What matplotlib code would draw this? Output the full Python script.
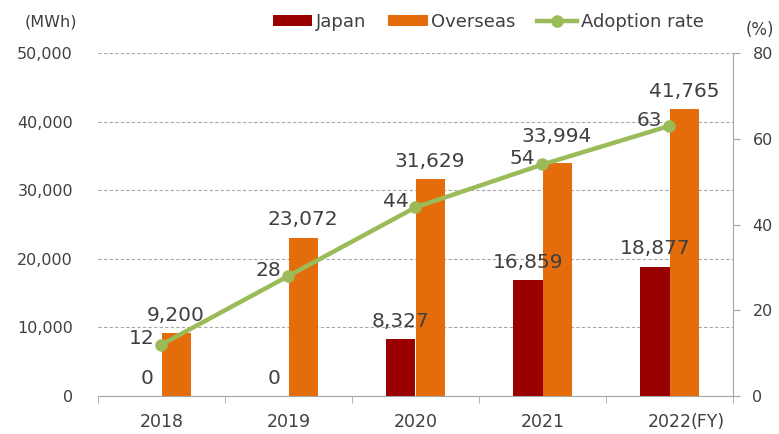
import numpy as np
import matplotlib.pyplot as plt
from matplotlib.ticker import FuncFormatter, FixedLocator

# data
years = ['2018', '2019', '2020', '2021', '2022']
japan = [0, 0, 8327, 16859, 18877]
overseas = [9200, 23072, 31629, 33994, 41765]
rate = [12, 28, 44, 54, 63]

c_japan = '#990000'
c_overseas = '#E46C0A'
c_rate = '#9BBB59'
c_text = '#404040'

plt.rcParams['font.family'] = 'DejaVu Sans'

fig = plt.figure(figsize=(7.79, 4.34), dpi=100)
ax = fig.add_axes([98 / 779, 1 - 396 / 434, 635 / 779, 343 / 434])
ax2 = ax.twinx()

x = np.arange(len(years))
w = 0.23

b1 = ax.bar(x - w / 2, japan, w, color=c_japan, label='Japan', zorder=3)
b2 = ax.bar(x + w / 2, overseas, w, color=c_overseas, label='Overseas', zorder=3)
ln, = ax2.plot(x, rate, color=c_rate, lw=3.2, marker='o', ms=8, label='Adoption rate', zorder=4)

# labels (2021 overseas label nudged up so it clears the rate label)
nudge = {3: 6}
for xi, v in zip(x, japan):
    ax.annotate(f'{v:,}', (xi - w / 2, v), xytext=(0, 6), textcoords='offset points',
                ha='center', va='bottom', fontsize=14.5, color=c_text)
for i, (xi, v) in enumerate(zip(x, overseas)):
    ax.annotate(f'{v:,}', (xi + w / 2, v), xytext=(0, 6 + nudge.get(i, 0)), textcoords='offset points',
                ha='center', va='bottom', fontsize=14.5, color=c_text)
for xi, v in zip(x, rate):
    ax2.annotate(f'{v}', (xi, v), xytext=(-5, 4), textcoords='offset points',
                 ha='right', va='center', fontsize=14.5, color=c_text)

# axes
ax.set_xlim(-0.5, len(years) - 0.5)
ax.set_ylim(0, 50000)
ax2.set_ylim(0, 80)
ax.set_yticks(np.arange(0, 50001, 10000))
ax.yaxis.set_major_formatter(FuncFormatter(lambda v, p: f'{int(v):,}'))
ax2.set_yticks(np.arange(0, 81, 20))

ax.set_xticks(x)
ax.set_xticklabels(years)
ax.xaxis.set_minor_locator(FixedLocator(np.arange(-0.5, len(years), 1)))
ax.tick_params(axis='x', which='major', length=0, pad=12, labelsize=12.5, labelcolor=c_text)
ax.tick_params(axis='x', which='minor', length=5, color='#A6A6A6', direction='out')
ax.tick_params(axis='y', length=0, pad=18, labelsize=11.5, labelcolor=c_text)
ax2.tick_params(axis='y', length=5, color='#A6A6A6', pad=9, labelsize=11.5, labelcolor=c_text)

ax.grid(axis='y', ls=(0, (3, 2)), color='#A6A6A6', lw=0.8, zorder=0)
for s in ['top', 'left', 'right']:
    ax.spines[s].set_visible(False)
for s in ['top', 'left', 'bottom']:
    ax2.spines[s].set_visible(False)
ax.spines['bottom'].set_color('#A6A6A6')
ax2.spines['right'].set_color('#A6A6A6')

ax.set_zorder(ax2.get_zorder() - 1)
ax.patch.set_visible(False)
ax2.set_zorder(1)

fig.text(25 / 779, 1 - 22 / 434, '(MWh)', fontsize=11.5, color=c_text, va='center')
fig.text(746 / 779, 1 - 30 / 434, '(%)', fontsize=12, color=c_text, va='center')
fig.text(690 / 779, 1 - 422 / 434, '(FY)', fontsize=12.5, color=c_text, va='center')

fig.legend(handles=[b1, b2, ln], loc='center', bbox_to_anchor=(488 / 779, 1 - 22 / 434),
           ncol=3, frameon=False, fontsize=13, handlelength=2.2, handleheight=0.5,
           handletextpad=0.2, columnspacing=1.2, labelcolor=c_text)

fig.savefig('out.png', dpi=100)
